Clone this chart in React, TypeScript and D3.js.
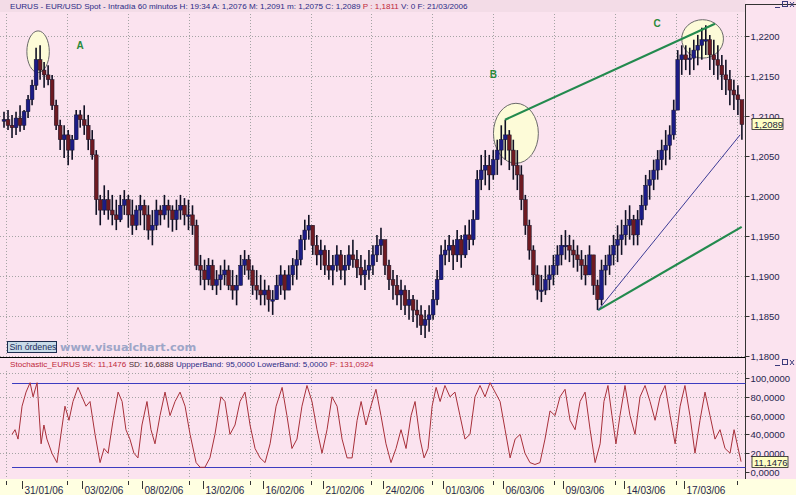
import * as d3 from "d3";
import { useEffect, useRef } from "react";

const W = 796;
const H = 495;

// 60-minute EUR/USD, grouped in slots of 0.2 trading day, first slot on 30/01/06
const highs = [
  1.2105, 1.2107, 1.2101, 1.2105, 1.2113, 1.2107, 1.2126, 1.2145, 1.2185, 1.2188,
  1.2167, 1.2163, 1.2151, 1.212, 1.2095, 1.2088, 1.2082, 1.2076, 1.2107, 1.2107,
  1.2113, 1.2101, 1.2082, 1.2057, 1.2001, 1.2013, 1.2007, 1.2001, 1.1995, 1.2001,
  1.2007, 1.2001, 1.1995, 1.1988, 1.2001, 1.1995, 1.1988, 1.1982, 1.1995, 1.1988,
  1.2001, 1.1995, 1.1988, 1.1995, 1.2001, 1.1997, 1.1995, 1.1988, 1.197, 1.1926,
  1.192, 1.1922, 1.192, 1.1907, 1.1913, 1.192, 1.1913, 1.1907, 1.1901, 1.1926,
  1.1932, 1.1926, 1.1913, 1.1907, 1.1901, 1.1895, 1.1888, 1.1882, 1.1901, 1.1913,
  1.1907, 1.1913, 1.1922, 1.1932, 1.1951, 1.197, 1.1976, 1.1963, 1.1951, 1.1945,
  1.1938, 1.1932, 1.1926, 1.1938, 1.1932, 1.1926, 1.1938, 1.1945, 1.1932, 1.1926,
  1.192, 1.1932, 1.1938, 1.1951, 1.196, 1.1945, 1.192, 1.1907, 1.1901, 1.1895,
  1.1888, 1.1882, 1.1876, 1.187, 1.1863, 1.1857, 1.1863, 1.1882, 1.1907, 1.1938,
  1.1945, 1.1951, 1.1945, 1.1957, 1.1951, 1.1963, 1.197, 1.1982, 1.2032, 1.2051,
  1.2057, 1.2051, 1.2057, 1.207, 1.2088, 1.2095, 1.2082, 1.207, 1.2057, 1.2038,
  1.2001, 1.197, 1.1938, 1.1913, 1.1901, 1.1913, 1.1913, 1.1926, 1.1938, 1.1951,
  1.1957, 1.1951, 1.1945, 1.1938, 1.1932, 1.1926, 1.1938, 1.1926, 1.1895, 1.192,
  1.1926, 1.1938, 1.1951, 1.1963, 1.197, 1.1982, 1.1988, 1.1976, 1.1982, 1.2001,
  1.2026, 1.2032, 1.2045, 1.2057, 1.207, 1.2082, 1.2088, 1.212, 1.2182, 1.2188,
  1.2188, 1.2185, 1.2195, 1.2201, 1.221, 1.2213, 1.2201, 1.2195, 1.2188, 1.2176,
  1.217, 1.2157, 1.2145, 1.2138, 1.2107,
];
const lows = [
  1.2085, 1.2082, 1.2072, 1.2076, 1.208, 1.2082, 1.2097, 1.2113, 1.2132, 1.2145,
  1.2135, 1.2138, 1.2107, 1.2082, 1.2057, 1.2047, 1.2038, 1.2045, 1.207, 1.2085,
  1.2076, 1.2057, 1.2045, 1.1976, 1.1963, 1.1976, 1.197, 1.1963, 1.1957, 1.1967,
  1.1976, 1.196, 1.1951, 1.1957, 1.1963, 1.1957, 1.1945, 1.1938, 1.1957, 1.1963,
  1.197, 1.196, 1.1955, 1.1957, 1.197, 1.1963, 1.1957, 1.1951, 1.1907, 1.1888,
  1.1882, 1.1888, 1.1882, 1.1876, 1.1882, 1.1888, 1.1882, 1.187, 1.1863, 1.1888,
  1.1901, 1.1895, 1.1876, 1.187, 1.1863, 1.1863, 1.1855, 1.1851, 1.187, 1.1876,
  1.187, 1.1882, 1.1888, 1.1895, 1.1913, 1.1932, 1.1945, 1.1926, 1.1913, 1.1907,
  1.1901, 1.1895, 1.1888, 1.1905, 1.1895, 1.1888, 1.1907, 1.191, 1.1897, 1.1888,
  1.1882, 1.1895, 1.1901, 1.1917, 1.1926, 1.1901, 1.1882, 1.187, 1.1863, 1.1857,
  1.1851, 1.1845, 1.1842, 1.1835, 1.1826, 1.1822, 1.183, 1.1845, 1.1863, 1.1895,
  1.1913, 1.1917, 1.1907, 1.1917, 1.191, 1.1922, 1.1932, 1.1938, 1.1976, 1.2007,
  1.2013, 1.2007, 1.202, 1.2026, 1.2038, 1.2045, 1.2032, 1.202, 1.2007, 1.1982,
  1.1951, 1.192, 1.1888, 1.187, 1.1867, 1.1876, 1.1882, 1.1888, 1.1901, 1.1913,
  1.192, 1.1917, 1.191, 1.1905, 1.1895, 1.1888, 1.1901, 1.1876, 1.1857, 1.1863,
  1.1888, 1.1901, 1.1913, 1.1917, 1.1926, 1.1938, 1.1945, 1.1938, 1.1938, 1.1963,
  1.1982, 1.1995, 1.2007, 1.202, 1.2032, 1.2038, 1.2045, 1.207, 1.2107, 1.2151,
  1.2157, 1.2151, 1.2157, 1.2163, 1.217, 1.2176, 1.2157, 1.2151, 1.2145, 1.2132,
  1.2126, 1.2113, 1.2107, 1.2101, 1.207,
];
const closes = [
  1.2095, 1.2088, 1.2085, 1.2097, 1.2088, 1.2105, 1.212, 1.2138, 1.217, 1.2157,
  1.2151, 1.2145, 1.2113, 1.2088, 1.207, 1.2076, 1.2057, 1.207, 1.2101, 1.2095,
  1.2088, 1.207, 1.2051, 1.1995, 1.1982, 1.1995, 1.1982, 1.1976, 1.197, 1.1988,
  1.1995, 1.1976, 1.1963, 1.1982, 1.1988, 1.1976, 1.1957, 1.1963, 1.1982, 1.1976,
  1.1988, 1.1982, 1.197, 1.1982, 1.1988, 1.1976, 1.1976, 1.1963, 1.1913, 1.1907,
  1.1895, 1.1913, 1.1888, 1.1895, 1.1901, 1.1907, 1.1888, 1.1882, 1.1888, 1.1913,
  1.192, 1.1907, 1.1888, 1.1882, 1.1876, 1.1882, 1.187, 1.187, 1.1888, 1.1901,
  1.1882, 1.1901, 1.1913, 1.192, 1.1945, 1.1957, 1.1963, 1.1938, 1.1926, 1.1932,
  1.1913, 1.1907, 1.1913, 1.1926, 1.1907, 1.1913, 1.1926, 1.192, 1.191, 1.1901,
  1.1907, 1.1913, 1.1926, 1.1938, 1.1945, 1.1913, 1.1895, 1.1888, 1.1876, 1.1882,
  1.1863, 1.187, 1.1857, 1.1851, 1.1838, 1.1845, 1.1851, 1.187, 1.1895, 1.1926,
  1.1932, 1.1938, 1.1926, 1.1945, 1.1926, 1.1951, 1.1945, 1.197, 1.202, 1.2032,
  1.2038, 1.2026, 1.2045, 1.2057, 1.207, 1.2076, 1.2057, 1.2038, 1.2026, 1.1995,
  1.1963, 1.1932, 1.1901, 1.1882, 1.1882, 1.1895, 1.1901, 1.1913, 1.1926, 1.1938,
  1.1938, 1.1932, 1.1926, 1.192, 1.1913, 1.1901, 1.1926, 1.1888, 1.187, 1.1907,
  1.1913, 1.1926, 1.1938, 1.1945, 1.1951, 1.1963, 1.197, 1.1951, 1.197, 1.1988,
  1.2013, 1.202, 1.2032, 1.2045, 1.2057, 1.2063, 1.2076, 1.2107, 1.217, 1.2176,
  1.217, 1.2172, 1.2182, 1.2188, 1.2195, 1.2195, 1.2176, 1.217, 1.2163, 1.2151,
  1.2145, 1.2132, 1.2126, 1.212, 1.2089,
];
const SLOT = 0.2; // trading days per slot

// stochastic %K, read at its turning points (trading day, value)
const stochDays = [
  0.5, 0.65, 0.8, 1.0, 1.2, 1.4, 1.55, 1.75, 1.95, 2.09, 2.24, 2.49, 2.74, 2.94, 3.14,
  3.34, 3.54, 3.79, 3.99, 4.19, 4.39, 4.64, 4.89, 5.09, 5.29, 5.54, 5.79, 5.99, 6.18,
  6.38, 6.58, 6.78, 6.98, 7.23, 7.43, 7.63, 7.88, 8.13, 8.38, 8.63, 8.88, 9.13, 9.38,
  9.68, 9.88, 10.12, 10.37, 10.62, 10.92, 11.12, 11.37, 11.62, 11.87, 12.12, 12.37,
  12.62, 12.87, 13.12, 13.37, 13.67, 13.97, 14.21, 14.46, 14.71, 14.96, 15.21, 15.46,
  15.71, 15.96, 16.21, 16.46, 16.71, 16.96, 17.21, 17.46, 17.71, 17.91, 18.15, 18.4,
  18.65, 18.9, 19.15, 19.4, 19.65, 19.9, 20.15, 20.4, 20.6, 20.85, 21.05, 21.25, 21.45,
  21.65, 21.85, 22.09, 22.34, 22.59, 22.84, 23.09, 23.34, 23.59, 23.84, 24.09, 24.34,
  24.59, 24.84, 25.09, 25.34, 25.59, 25.84, 26.08, 26.33, 26.58, 26.83, 27.08, 27.33,
  27.58, 27.83, 28.08, 28.33, 28.58, 28.83, 29.08, 29.33, 29.58, 29.83, 30.02, 30.22,
  30.42, 30.62, 30.82, 31.07, 31.32, 31.57, 31.82, 32.07, 32.32, 32.57, 32.82, 33.07,
  33.32, 33.57, 33.82, 34.06, 34.31, 34.56, 34.81, 35.06, 35.31, 35.56, 35.81, 36.06,
  36.31, 36.51, 36.66, 36.86,
];
const stochK = [
  40, 45, 35, 70, 85, 95, 80, 95, 30, 50, 35, 20, 10, 40, 70,
  55, 75, 90, 80, 70, 75, 40, 10, 25, 20, 55, 85, 75, 45,
  35, 20, 15, 50, 75, 45, 30, 60, 85, 60, 75, 85, 70, 40,
  10, 5, 5, 15, 40, 80, 75, 40, 50, 75, 85, 50,
  25, 15, 10, 30, 70, 90, 60, 25, 35, 70, 92, 75,
  45, 20, 45, 80, 70, 35, 15, 15, 55, 75, 50, 70,
  88, 60, 30, 10, 25, 45, 25, 60, 75, 35, 15, 25, 70,
  90, 75, 92, 80, 85, 60, 35, 40, 80, 92, 80, 95,
  85, 75, 45, 15, 35, 40, 20, 10, 8, 10, 35, 65,
  60, 80, 88, 55, 45, 75, 85, 45, 10, 30, 75, 92,
  60, 30, 60, 92, 60, 40, 80, 92, 75, 55, 80, 92,
  60, 30, 70, 92, 60, 20, 55, 85, 60, 35, 45, 25,
  20, 45, 30, 11,
];

const priceTicks = [1.18, 1.185, 1.19, 1.195, 1.2, 1.205, 1.21, 1.215, 1.22];
const stochTicks = [0, 20, 40, 60, 80, 100];
const dateLabels = [
  "31/01/06", "03/02/06", "08/02/06", "13/02/06", "16/02/06", "21/02/06",
  "24/02/06", "01/03/06", "06/03/06", "09/03/06", "14/03/06", "17/03/06",
];
const dateDays = [1, 4, 7, 10, 13, 16, 19, 22, 25, 28, 31, 34];

const lastPrice = 1.2089;
const lastK = 11.1476;
const upperBand = 95;
const lowerBand = 5;

// hand-drawn studies (trading day, price)
const circles = [
  { day: 1.8, price: 1.218, rd: 0.56, rp: 0.0026 },
  { day: 25.63, price: 1.2078, rd: 1.12, rp: 0.00375 },
  { day: 34.94, price: 1.2196, rd: 1.04, rp: 0.0024 },
];
const letters = [
  { label: "A", day: 3.89, price: 1.2183 },
  { label: "B", day: 24.51, price: 1.2147 },
  { label: "C", day: 32.67, price: 1.2211 },
];
const trendGreen = [
  [[25.09, 1.2095], [35.56, 1.2215]],
  [[29.73, 1.1857], [36.89, 1.1961]],
];
const trendBlue = [[29.73, 1.1857], [36.81, 1.2076]];

const fmt = (v: number, d: number) => v.toFixed(d).replace(".", ",");

export default function App() {
  const ref = useRef<SVGSVGElement>(null);

  useEffect(() => {
    document.body.style.margin = "0";
    const svg = d3.select(ref.current);
    svg.selectAll("*").remove();

    const FONT = "'Liberation Sans', Arial, sans-serif";
    const NAVY = "#2b2b86";
    const RED = "#c0283a";
    const PINK = "#fbe3ef";
    const AXIS_X = 745.5;

    const x = d3.scaleLinear().domain([0, 37]).range([2, 743.9]);
    const y = d3.scaleLinear().domain([1.18, 1.22]).range([355.7, 35.7]);
    const yS = d3.scaleLinear().domain([0, 100]).range([472, 378]);

    // backgrounds
    svg.append("rect").attr("width", W).attr("height", H).attr("fill", PINK);
    svg.append("rect").attr("width", AXIS_X).attr("height", 12).attr("fill", "#f3dce7");
    svg.append("rect").attr("y", 479).attr("width", W).attr("height", 16).attr("fill", "#ffffe1");

    // dotted grid
    const grid = svg.append("g").attr("stroke", "#a4a4a4").attr("stroke-dasharray", "1 2");
    const gx = d3.range(6, AXIS_X, 60.9);
    gx.forEach((px) => {
      const xx = Math.round(px) + 0.5;
      grid.append("line").attr("x1", xx).attr("x2", xx).attr("y1", 14).attr("y2", 357);
      grid.append("line").attr("x1", xx).attr("x2", xx).attr("y1", 371).attr("y2", 479);
    });
    priceTicks.forEach((p) => {
      const yy = Math.round(y(p)) + 0.5;
      grid.append("line").attr("x1", 0).attr("x2", AXIS_X).attr("y1", yy).attr("y2", yy);
    });
    grid.append("line").attr("x1", 0).attr("x2", AXIS_X).attr("y1", 373.5).attr("y2", 373.5);
    stochTicks.slice(1, 5).forEach((v) => {
      const yy = Math.round(yS(v)) + 0.5;
      grid.append("line").attr("x1", 0).attr("x2", AXIS_X).attr("y1", yy).attr("y2", yy);
    });

    // panel frames
    svg.append("line").attr("x1", 0).attr("x2", AXIS_X).attr("y1", 357.5).attr("y2", 357.5)
      .attr("stroke", "#000");
    svg.append("line").attr("x1", AXIS_X).attr("x2", AXIS_X).attr("y1", 4).attr("y2", 479)
      .attr("stroke", "#333");
    svg.append("line").attr("x1", AXIS_X).attr("x2", W).attr("y1", 4.5).attr("y2", 4.5)
      .attr("stroke", "#333");

    // circles behind the bars
    svg.append("g").selectAll("ellipse").data(circles).join("ellipse")
      .attr("cx", (d) => x(d.day))
      .attr("cy", (d) => y(d.price))
      .attr("rx", (d) => x(d.day + d.rd) - x(d.day))
      .attr("ry", (d) => y(d.price - d.rp) - y(d.price))
      .attr("fill", "#fdfbd8")
      .attr("stroke", "#6a6a6a")
      .attr("stroke-width", 1);

    // price bars
    const bars = closes.map((c, i) => ({
      t: (i + 0.5) * SLOT,
      o: i === 0 ? closes[0] : closes[i - 1],
      h: highs[i],
      l: lows[i],
      c,
    }));
    const bg = svg.append("g");
    bg.selectAll("line").data(bars).join("line")
      .attr("x1", (d) => x(d.t)).attr("x2", (d) => x(d.t))
      .attr("y1", (d) => y(d.h)).attr("y2", (d) => y(d.l))
      .attr("stroke", "#101024").attr("stroke-width", 1.6);
    bg.selectAll("rect").data(bars).join("rect")
      .attr("x", (d) => x(d.t) - 1.9)
      .attr("width", 3.8)
      .attr("y", (d) => y(Math.max(d.o, d.c)))
      .attr("height", (d) => Math.max(1.5, Math.abs(y(d.o) - y(d.c))))
      .attr("fill", (d) => (d.c >= d.o ? "#1c1c86" : "#6e1a22"))
      .attr("stroke", "#14142a")
      .attr("stroke-width", 0.5);

    // trend lines
    const lineGen = d3.line<number[]>().x((d) => x(d[0])).y((d) => y(d[1]));
    trendGreen.forEach((seg) => {
      svg.append("path").attr("d", lineGen(seg)).attr("fill", "none")
        .attr("stroke", "#238a4e").attr("stroke-width", 2.2);
    });
    svg.append("path").attr("d", lineGen(trendBlue)).attr("fill", "none")
      .attr("stroke", "#3c3c96").attr("stroke-width", 1);

    svg.append("g").selectAll("text").data(letters).join("text")
      .attr("x", (d) => x(d.day)).attr("y", (d) => y(d.price))
      .attr("text-anchor", "middle")
      .attr("font-family", FONT).attr("font-size", 10).attr("font-weight", "bold")
      .attr("fill", "#2a8a3a")
      .text((d) => d.label);

    // price axis
    const pa = svg.append("g").attr("font-family", FONT).attr("font-size", 9.5).attr("fill", "#26264e");
    priceTicks.forEach((p) => {
      const yy = Math.round(y(p)) + 0.5;
      pa.append("line").attr("x1", AXIS_X).attr("x2", AXIS_X + 4).attr("y1", yy).attr("y2", yy)
        .attr("stroke", "#333");
      pa.append("text").attr("x", AXIS_X + 5).attr("y", yy + 3.5).text(fmt(p, 4));
    });

    // stochastic panel
    const bandX0 = x(stochDays[0]);
    [upperBand, lowerBand].forEach((b) => {
      const yy = Math.round(yS(b)) + 0.5;
      svg.append("line").attr("x1", bandX0).attr("x2", AXIS_X).attr("y1", yy).attr("y2", yy)
        .attr("stroke", "#3c3cc0").attr("stroke-width", 1);
    });
    const stoch = stochDays.map((t, i) => [t, stochK[i]]);
    svg.append("path")
      .attr("d", d3.line<number[]>().x((d) => x(d[0])).y((d) => yS(d[1]))(stoch))
      .attr("fill", "none").attr("stroke", "#a8303a").attr("stroke-width", 1);

    const sa = svg.append("g").attr("font-family", FONT).attr("font-size", 9.5).attr("fill", "#26264e");
    stochTicks.forEach((v) => {
      const yy = Math.round(yS(v)) + 0.5;
      sa.append("line").attr("x1", AXIS_X).attr("x2", AXIS_X + 4).attr("y1", yy).attr("y2", yy)
        .attr("stroke", "#333");
      sa.append("text").attr("x", AXIS_X + 5).attr("y", yy + 3.5).text(fmt(v, 4));
    });

    // last value boxes
    const valueBox = (yy: number, label: string, w: number) => {
      const g = svg.append("g");
      g.append("path")
        .attr("d", `M${AXIS_X + 6},${yy} l3,-2.5 v5 z`).attr("fill", "#444");
      g.append("rect").attr("x", AXIS_X + 6.5).attr("y", yy - 5.5).attr("width", w).attr("height", 11)
        .attr("fill", "#ffffc4").attr("stroke", "#222").attr("stroke-width", 0.8);
      g.append("text").attr("x", AXIS_X + 8.5).attr("y", yy + 3.6)
        .attr("font-family", FONT).attr("font-size", 9.5).attr("fill", "#1e1e3c").text(label);
    };
    valueBox(Math.round(y(lastPrice)), fmt(lastPrice, 4), 31);
    valueBox(Math.round(yS(lastK)), fmt(lastK, 4), 36);

    // date axis
    const da = svg.append("g").attr("stroke", "#333");
    gx.forEach((px) => {
      const xx = Math.round(px) + 0.5;
      da.append("line").attr("x1", xx).attr("x2", xx).attr("y1", 481).attr("y2", 485);
    });
    dateDays.forEach((d, i) => {
      const xx = Math.round(x(d)) + 0.5;
      da.append("line").attr("x1", xx).attr("x2", xx).attr("y1", 481).attr("y2", 489);
      svg.append("text").attr("x", xx + 2).attr("y", 494)
        .attr("font-family", FONT).attr("font-size", 10).attr("fill", "#26264e")
        .text(dateLabels[i]);
    });

    // headers
    const h1 = svg.append("text").attr("x", 10).attr("y", 9)
      .attr("font-family", FONT).attr("font-size", 8.1).attr("xml:space", "preserve");
    h1.append("tspan").attr("fill", NAVY)
      .text("EURUS - EUR/USD Spot - Intradía 60 minutos H: 19:34 A: 1,2076 M: 1,2091 m: 1,2075 C: 1,2089 ");
    h1.append("tspan").attr("fill", RED).text("P : 1,1811");
    h1.append("tspan").attr("fill", NAVY).text(" V: 0 F: 21/03/2006");

    const h2 = svg.append("text").attr("x", 10).attr("y", 367)
      .attr("font-family", FONT).attr("font-size", 8.1).attr("xml:space", "preserve");
    h2.append("tspan").attr("fill", RED).text("Stochastic_EURUS SK: 11,1476 ");
    h2.append("tspan").attr("fill", "#4a2a30").text("SD: 16,6888 ");
    h2.append("tspan").attr("fill", NAVY).text("UppperBand: 95,0000 LowerBand: 5,0000 ");
    h2.append("tspan").attr("fill", RED).text("P: 131,0924");

    // window buttons
    [4, 362].forEach((yy) => {
      const g = svg.append("g").attr("stroke", "#3a3a7a").attr("fill", "none").attr("stroke-width", 1);
      g.append("line").attr("x1", 775).attr("x2", 780).attr("y1", yy + 3.5).attr("y2", yy + 3.5);
      g.append("rect").attr("x", 782.5).attr("y", yy - 2.5).attr("width", 5).attr("height", 5);
      g.append("path").attr("d", `M790,${yy - 2} l4,5 M794,${yy - 2} l-4,5`);
    });

    // order button and watermark
    svg.append("rect").attr("x", 7.5).attr("y", 341.5).attr("width", 49).attr("height", 11)
      .attr("fill", "#c8dbe8").attr("stroke", "#1e2e50");
    svg.append("text").attr("x", 9.5).attr("y", 350).attr("font-family", FONT).attr("font-size", 8.8)
      .attr("fill", "#1c2c5a").text("Sin órdenes");
    svg.append("text").attr("x", 60).attr("y", 350.5)
      .attr("font-family", "'DejaVu Sans', Verdana, sans-serif").attr("font-size", 11.3)
      .attr("font-weight", "bold").attr("fill", "#9ea6c8").text("www.visualchart.com");
  }, []);

  return <svg ref={ref} width={W} height={H} style={{ display: "block" }} />;
}
